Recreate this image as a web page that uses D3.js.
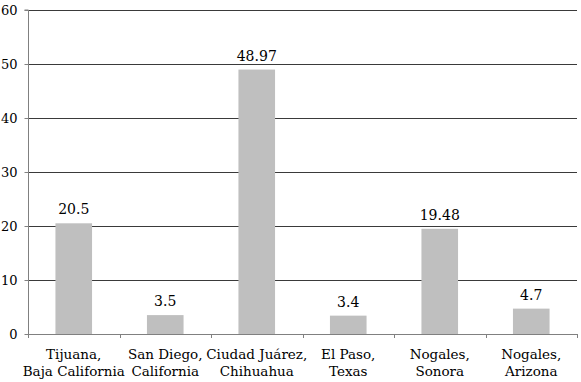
<!DOCTYPE html>
<html>
<head>
<meta charset="utf-8">
<script src="https://cdn.jsdelivr.net/npm/d3@7"></script>
<style>
  body { margin: 0; background: #fff; }
</style>
</head>
<body>
<svg id="chart" width="581" height="382"></svg>
<script>
const width = 581, height = 382;
const margin = { top: 10, right: 4, bottom: 48, left: 28 };
const font = "'DejaVu Serif', serif";

const cities = [
    ["Tijuana,", "Baja California"],
    ["San Diego,", "California"],
    ["Ciudad Juárez,", "Chihuahua"],
    ["El Paso,", "Texas"],
    ["Nogales,", "Sonora"],
    ["Nogales,", "Arizona"]
];
const values = [20.5, 3.5, 48.97, 3.4, 19.48, 4.7];
const valueLabels = ["20.5", "3.5", "48.97", "3.4", "19.48", "4.7"];
const yTicks = [0, 10, 20, 30, 40, 50, 60];

const svg = d3.select("#chart");
const keys = cities.map((c, i) => i);

const x = d3.scaleBand()
    .domain(keys)
    .range([margin.left, width - margin.right])
    .paddingInner(0.6)
    .paddingOuter(0.3);

const y = d3.scaleLinear()
    .domain([0, 60])
    .range([height - margin.bottom, margin.top]);

// gridlines
svg.append("g")
    .selectAll("line")
    .data(yTicks.filter(d => d > 0))
    .enter()
    .append("line")
    .attr("x1", margin.left)
    .attr("x2", width - margin.right)
    .attr("y1", d => Math.round(y(d)) + 0.5)
    .attr("y2", d => Math.round(y(d)) + 0.5)
    .attr("stroke", "#3a3a3a")
    .attr("stroke-width", 1);

// bars
svg.append("g")
    .selectAll("rect")
    .data(values)
    .enter()
    .append("rect")
    .attr("x", (d, i) => x(i))
    .attr("y", d => y(d))
    .attr("width", x.bandwidth())
    .attr("height", d => y(0) - y(d))
    .attr("fill", "#bfbfbf");

// value labels
svg.append("g")
    .selectAll("text")
    .data(values)
    .enter()
    .append("text")
    .attr("x", (d, i) => x(i) + x.bandwidth() / 2)
    .attr("y", d => y(d) - 9)
    .attr("text-anchor", "middle")
    .style("font-family", font)
    .style("font-size", "14px")
    .style("fill", "#000")
    .text((d, i) => valueLabels[i]);

// y axis
const yAxis = svg.append("g")
    .attr("transform", `translate(${margin.left + 0.5},0)`)
    .call(d3.axisLeft(y).tickValues(yTicks).tickSize(4).tickPadding(7).tickFormat(d3.format("d")));
yAxis.select(".domain").attr("stroke", "#808080").attr("d", `M-4,${y(60)}H0V${y(0)}`);
yAxis.selectAll(".tick line").attr("stroke", "#808080");
yAxis.selectAll(".tick text")
    .style("font-family", font)
    .style("font-size", "13px")
    .attr("fill", "#000");

// x axis
const boundaries = d3.range(cities.length + 1).map(i => margin.left + i * (width - margin.left - margin.right) / cities.length);
const xg = svg.append("g");
xg.append("line")
    .attr("x1", margin.left)
    .attr("x2", width - margin.right)
    .attr("y1", Math.round(y(0)) + 0.5)
    .attr("y2", Math.round(y(0)) + 0.5)
    .attr("stroke", "#808080");
xg.selectAll(".xt")
    .data(boundaries)
    .enter()
    .append("line")
    .attr("x1", d => Math.round(d) + 0.5)
    .attr("x2", d => Math.round(d) + 0.5)
    .attr("y1", y(0))
    .attr("y2", y(0) + 4)
    .attr("stroke", "#808080");

const labels = xg.selectAll(".xl")
    .data(cities)
    .enter()
    .append("text")
    .attr("text-anchor", "middle")
    .attr("transform", (d, i) => `translate(${x(i) + x.bandwidth() / 2},0)`)
    .style("font-family", font)
    .style("font-size", "13.5px")
    .style("fill", "#000");
labels.each(function (d) {
    d3.select(this).selectAll("tspan")
        .data(d)
        .enter()
        .append("tspan")
        .attr("x", 0)
        .attr("y", (t, j) => 359 + j * 17)
        .text(t => t);
});
</script>
</body>
</html>
